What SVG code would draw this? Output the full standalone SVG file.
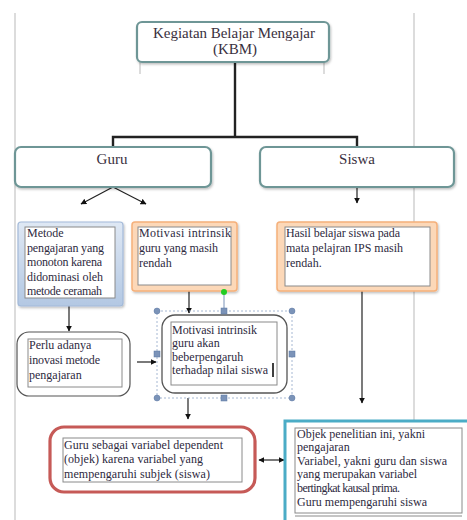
<svg xmlns="http://www.w3.org/2000/svg" width="467" height="520" viewBox="0 0 467 520">
<style>
.t{font-family:"Liberation Serif","Times New Roman",serif;font-size:12px;fill:#2e2a3e}
.tt{font-family:"Liberation Serif","Times New Roman",serif;font-size:15px;fill:#3a3040}
.hdr{fill:#fff;stroke:#6e9696;stroke-width:2.2}
.inner{fill:#fff;stroke:#8a8a8a;stroke-width:1}
.page{stroke:#d4d4d4;stroke-width:1.6;fill:none}
.con{stroke:#222;stroke-width:1.2;fill:none}
.tree{stroke:#222;stroke-width:2.4;fill:none}
.hnd{fill:#7b93b8;stroke:#5a77a3;stroke-width:0.5}
</style>
<defs>
<marker id="ah" viewBox="0 0 10 10" refX="9" refY="5" markerWidth="5" markerHeight="5" orient="auto-start-reverse"><path d="M0,0 L10,5 L0,10 z" fill="#111"/></marker>
<linearGradient id="gb" x1="0" y1="0" x2="0" y2="1"><stop offset="0" stop-color="#dfe8f4"/><stop offset="1" stop-color="#b3c8e3"/></linearGradient>
<filter id="sh" x="-10%" y="-10%" width="130%" height="140%"><feDropShadow dx="1" dy="1.5" stdDeviation="1" flood-color="#000" flood-opacity="0.25"/></filter>
</defs>
<rect width="467" height="520" fill="#fff"/>
<g id="page">
<line class="page" x1="15" y1="13" x2="15" y2="520"/>
<line class="page" x1="414" y1="13" x2="414" y2="421"/>
<line class="page" x1="140" y1="62" x2="140" y2="74"/>
<line class="page" x1="324" y1="62" x2="324" y2="74"/>
</g>
<g id="connectors">
<polyline class="tree" points="235,62 235,137"/>
<polyline class="tree" points="113,147 113,137 357,137 357,147"/>
<line class="con" x1="113" y1="187" x2="81" y2="204" marker-end="url(#ah)"/>
<line class="con" x1="113" y1="187" x2="146" y2="204" marker-end="url(#ah)"/>
<line class="con" x1="357" y1="187" x2="357" y2="203" marker-end="url(#ah)"/>
<line class="con" x1="69" y1="306" x2="69" y2="331" marker-end="url(#ah)"/>
<line class="con" x1="137" y1="362" x2="156" y2="362" marker-end="url(#ah)"/>
<line class="con" x1="189" y1="291" x2="189" y2="313" marker-end="url(#ah)"/>
<line class="con" x1="188" y1="398" x2="188" y2="419" marker-end="url(#ah)"/>
<line class="con" x1="362" y1="291" x2="362" y2="403" marker-end="url(#ah)"/>
<line class="con" x1="259" y1="460" x2="284" y2="460" marker-start="url(#ah)" marker-end="url(#ah)"/>
</g>
<g id="kbm">
<rect class="hdr" x="137" y="22" width="192" height="40" rx="5" filter="url(#sh)"/>
<text class="tt" x="234" y="38" text-anchor="middle" textLength="162">Kegiatan Belajar Mengajar</text>
<text class="tt" x="235" y="54" text-anchor="middle">(KBM)</text>
</g>
<g id="guru">
<rect class="hdr" x="15" y="147" width="196" height="40" rx="6" filter="url(#sh)"/>
<text class="tt" x="112" y="164" text-anchor="middle">Guru</text>
</g>
<g id="siswa">
<rect class="hdr" x="260" y="147" width="194" height="40" rx="6" filter="url(#sh)"/>
<text class="tt" x="357" y="164" text-anchor="middle">Siswa</text>
</g>
<g id="metode">
<rect x="18" y="222" width="105" height="84" rx="3" fill="url(#gb)" stroke="#a3bad9" stroke-width="1.2" filter="url(#sh)"/>
<rect class="inner" x="25" y="227" width="90" height="71"/>
<text class="t" x="27" y="237">Metode</text>
<text class="t" x="27" y="252" textLength="77">pengajaran yang</text>
<text class="t" x="27" y="266" textLength="75">monoton karena</text>
<text class="t" x="27" y="281" textLength="76">didominasi oleh</text>
<text class="t" x="27" y="295" textLength="75">metode ceramah</text>
</g>
<g id="motivasi">
<rect x="132" y="222" width="105" height="69" rx="3" fill="#fcd8b8" stroke="#f5b07a" stroke-width="1.5" filter="url(#sh)"/>
<rect class="inner" x="138" y="227" width="93" height="58"/>
<text class="t" x="139" y="237" textLength="92">Motivasi intrinsik</text>
<text class="t" x="139" y="252" textLength="79">guru yang masih</text>
<text class="t" x="139" y="267">rendah</text>
</g>
<g id="hasil">
<rect x="277" y="222" width="160" height="69" rx="3" fill="#fcd8b8" stroke="#f5b07a" stroke-width="1.5" filter="url(#sh)"/>
<rect class="inner" x="285" y="227" width="145" height="59"/>
<text class="t" x="286" y="237" textLength="114">Hasil belajar siswa pada</text>
<text class="t" x="286" y="252" textLength="117">mata pelajran IPS masih</text>
<text class="t" x="286" y="267">rendah.</text>
</g>
<g id="perlu">
<rect x="17" y="332" width="113" height="64" rx="12" fill="#fff" stroke="#555" stroke-width="1.2"/>
<rect class="inner" x="28" y="339" width="94" height="48"/>
<text class="t" x="29" y="349">Perlu adanya</text>
<text class="t" x="29" y="364" textLength="71">inovasi metode</text>
<text class="t" x="29" y="379">pengajaran</text>
</g>
<g id="motivasi2">
<rect x="157" y="311" width="135" height="87" fill="none" stroke="#8fa6c8" stroke-width="0.8" stroke-dasharray="2,2"/>
<line x1="224" y1="292" x2="224" y2="311" stroke="#7b93b8" stroke-width="1"/>
<circle cx="224" cy="292" r="3" fill="#22cc22"/>
<rect x="162" y="315" width="125" height="78" rx="13" fill="#fff" stroke="#555" stroke-width="1.3"/>
<rect class="inner" x="171" y="322" width="106" height="63"/>
<text class="t" x="172" y="334" textLength="85">Motivasi intrinsik</text>
<text class="t" x="172" y="347">guru akan</text>
<text class="t" x="172" y="361">beberpengaruh</text>
<text class="t" x="172" y="374" textLength="96">terhadap nilai siswa</text>
<line x1="273" y1="363" x2="273" y2="377" stroke="#000" stroke-width="1.5"/>
<circle class="hnd" cx="157" cy="311" r="3"/>
<circle class="hnd" cx="292" cy="311" r="3"/>
<circle class="hnd" cx="157" cy="398" r="3"/>
<circle class="hnd" cx="292" cy="398" r="3"/>
<rect class="hnd" x="221" y="308" width="6" height="6"/>
<rect class="hnd" x="221" y="395" width="6" height="6"/>
<rect class="hnd" x="154" y="351" width="6" height="6"/>
<rect class="hnd" x="289" y="351" width="6" height="6"/>
</g>
<g id="gurusebagai">
<rect x="50" y="427" width="205" height="65" rx="14" fill="#fff" stroke="#c65a57" stroke-width="3.2"/>
<rect class="inner" x="63" y="438" width="179" height="44"/>
<text class="t" x="64" y="449" textLength="159">Guru sebagai variabel dependent</text>
<text class="t" x="64" y="463" textLength="139">(objek) karena variabel yang</text>
<text class="t" x="64" y="478" textLength="146">mempengaruhi subjek (siswa)</text>
</g>
<g id="objek">
<rect x="285" y="421" width="190" height="110" fill="#fff" stroke="#4bacc6" stroke-width="3"/>
<rect class="inner" x="295" y="428" width="167" height="85"/>
<line x1="295" y1="516" x2="462" y2="516" stroke="#8a8a8a" stroke-width="1"/>
<text class="t" x="297" y="438" textLength="128">Objek penelitian ini, yakni</text>
<text class="t" x="297" y="451">pengajaran</text>
<text class="t" x="297" y="465" textLength="150">Variabel, yakni guru dan siswa</text>
<text class="t" x="297" y="478" textLength="120">yang merupakan variabel</text>
<text class="t" x="297" y="492" textLength="103">bertingkat kausal prima.</text>
<text class="t" x="297" y="506" textLength="130">Guru mempengaruhi siswa</text>
</g>
</svg>
